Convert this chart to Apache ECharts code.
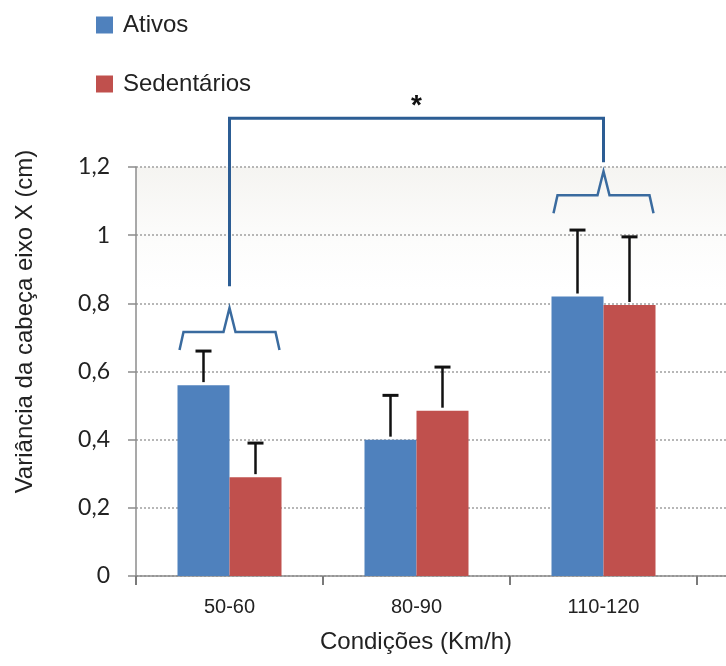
<!DOCTYPE html>
<html>
<head>
<meta charset="utf-8">
<script src="https://cdn.jsdelivr.net/npm/echarts@6/dist/echarts.min.js"></script>
<style>
  html, body { margin: 0; padding: 0; background: #fff; }
  #chart { width: 726px; height: 666px; }
</style>
</head>
<body>
<div id="chart"></div>
<script>
// categorias (a última vazia só prolonga o eixo até a borda, como no original recortado)
const categorias = ['50-60', '80-90', '110-120', ''];
const ativos = [0.56, 0.40, 0.82];
const sedentarios = [0.29, 0.485, 0.795];
// topo das barras de erro
const ativosErro = [0.66, 0.53, 1.015];
const sedentariosErro = [0.39, 0.613, 0.995];
// chaves: [categoria, nível da linha horizontal]
const chaves = [[0, 0.716], [2, 1.117]];
// colchete de significância: [cat esq, cat dir, topo, base esq, base dir]
const colchete = [[0, 2, 1.343, 0.85, 1.214]];

const BAR_W = 52;
const AZUL = '#4f81bd';
const VERMELHO = '#c0504d';

function fmt(v) {
    return String(+v.toFixed(1)).replace('.', ',');
}

// barra de erro só para cima, deslocada para o lado da barra
function erroItem(lado) {
    return function (params, api) {
        const c = api.coord([api.value(0), api.value(1)]);
        const t = api.coord([api.value(0), api.value(2)]);
        const x = c[0] + lado * BAR_W / 2;
        return {
            type: 'group',
            children: [
                { type: 'line', shape: { x1: x, y1: c[1] - 3, x2: x, y2: t[1] }, style: { stroke: '#111', lineWidth: 2.5 } },
                { type: 'line', shape: { x1: x - 8, y1: t[1], x2: x + 8, y2: t[1] }, style: { stroke: '#111', lineWidth: 3 } }
            ]
        };
    };
}

function chaveItem(params, api) {
    const p = api.coord([api.value(0), api.value(1)]);
    const x = p[0], y = p[1];
    const w = BAR_W - 2;
    return {
        type: 'polyline',
        shape: {
            points: [[x - w, y + 18], [x - w + 4, y], [x - 6, y], [x, y - 24],
                     [x + 6, y], [x + w - 4, y], [x + w, y + 18]]
        },
        style: { stroke: '#3a6b9f', lineWidth: 2.5, fill: null }
    };
}

function colcheteItem(params, api) {
    const a = api.coord([api.value(0), api.value(2)]);
    const b = api.coord([api.value(1), api.value(2)]);
    const ya = api.coord([api.value(0), api.value(3)])[1];
    const yb = api.coord([api.value(1), api.value(4)])[1];
    return {
        type: 'group',
        children: [
            {
                type: 'polyline',
                shape: { points: [[a[0], ya], [a[0], a[1]], [b[0], b[1]], [b[0], yb]] },
                style: { stroke: '#2c5d94', lineWidth: 3, fill: null }
            },
            {
                type: 'text',
                x: (a[0] + b[0]) / 2,
                y: a[1] - 12,
                style: { text: '*', font: 'bold 28px "Liberation Sans"', fill: '#111', align: 'center', verticalAlign: 'middle' }
            }
        ]
    };
}

const chart = echarts.init(document.getElementById('chart'));

const option = {
    animation: false,
    backgroundColor: '#fff',
    legend: {
        data: ['Ativos', 'Sedentários'],
        orient: 'vertical',
        left: 91,
        top: 8,
        itemWidth: 17,
        itemHeight: 17,
        itemGap: 35,
        icon: 'rect',
        textStyle: { fontFamily: 'Liberation Sans', fontSize: 24, color: '#222', padding: [0, 0, 0, 5] }
    },
    grid: {
        left: 136,
        top: 167,
        width: 748,
        height: 409,
        outerBoundsMode: 'none',
        containLabel: false,
        show: true,
        borderWidth: 0,
        backgroundColor: new echarts.graphic.LinearGradient(0, 0, 0, 1, [
            { offset: 0, color: '#f5f4f1' },
            { offset: 0.15, color: '#fbfbfa' },
            { offset: 0.3, color: '#ffffff' }
        ])
    },
    xAxis: {
        type: 'category',
        data: categorias,
        name: 'Condições (Km/h)',
        nameLocation: 'middle',
        nameGap: 54,
        nameTextStyle: { fontFamily: 'Liberation Sans', fontSize: 24, color: '#222', padding: [0, 188, 0, 0] },
        axisLine: { lineStyle: { color: '#8c8c8c', width: 1.5 } },
        axisTick: { show: true, length: 9, lineStyle: { color: '#7a7a7a', width: 2 } },
        axisLabel: { interval: 0, margin: 21, fontFamily: 'Liberation Sans', fontSize: 20, color: '#222' }
    },
    yAxis: {
        type: 'value',
        min: 0,
        max: 1.2,
        interval: 0.2,
        name: 'Variância da cabeça eixo X (cm)',
        nameLocation: 'middle',
        nameGap: 99,
        nameTextStyle: { fontFamily: 'Liberation Sans', fontSize: 24, color: '#222', padding: [0, 0, 0, 100] },
        axisLine: { show: true, lineStyle: { color: '#8c8c8c', width: 1.5 } },
        axisTick: { show: true, length: 8, lineStyle: { color: '#8c8c8c', width: 1.5 } },
        axisLabel: { margin: 26, fontFamily: 'Lato', fontSize: 23, color: '#222', formatter: fmt },
        splitLine: { lineStyle: { color: '#a0a0a0', width: 1.5, type: [2, 2] } }
    },
    series: [
        { name: 'Ativos', type: 'bar', data: ativos, barWidth: BAR_W, barGap: '0%', itemStyle: { color: AZUL } },
        { name: 'Sedentários', type: 'bar', data: sedentarios, barWidth: BAR_W, barGap: '0%', itemStyle: { color: VERMELHO } },
        {
            type: 'custom', z: 5, silent: true,
            data: ativos.map((v, i) => [i, v, ativosErro[i]]),
            renderItem: erroItem(-1)
        },
        {
            type: 'custom', z: 5, silent: true,
            data: sedentarios.map((v, i) => [i, v, sedentariosErro[i]]),
            renderItem: erroItem(1)
        },
        { type: 'custom', z: 6, silent: true, clip: false, data: chaves, renderItem: chaveItem },
        { type: 'custom', z: 6, silent: true, clip: false, data: colchete, renderItem: colcheteItem }
    ]
};

chart.setOption(option);
</script>
</body>
</html>
